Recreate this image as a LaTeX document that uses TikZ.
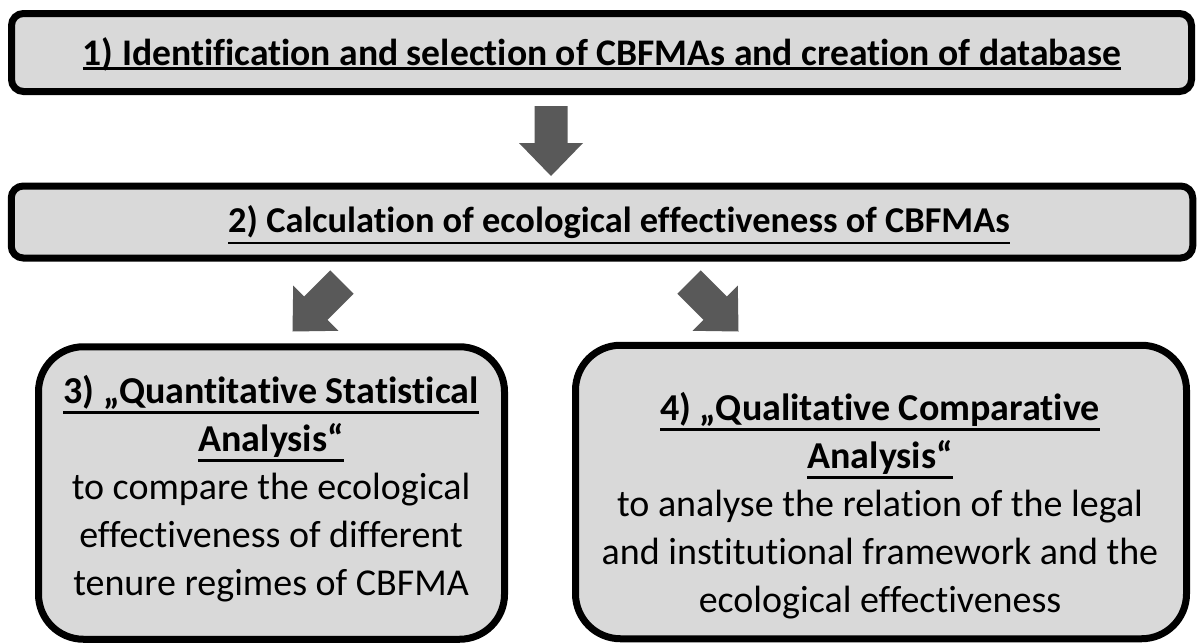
\documentclass[tikz,border=0pt]{standalone}
\usepackage{fontspec}
\setmainfont[Ligatures=NoCommon]{Carlito}
\definecolor{boxgray}{HTML}{D9D9D9}
\definecolor{arrowgray}{HTML}{595959}
% underline at a fixed distance (#1 pt) below the baseline
\newcommand\uln[2]{\setbox0=\hbox{#2}\rlap{\smash{\rule[\dimexpr-#1pt-1.25pt\relax]{\wd0}{2.5pt}}}\box0}
% filled block arrow: tail at #1, pointing at angle #2
\newcommand\blockarrow[2]{\fill[arrowgray,shift={(#1)},rotate=#2]
  (0,-16.5) -- (37,-16.5) -- (37,-32) -- (70,0) -- (37,32) -- (37,16.5) -- (0,16.5) -- cycle;}
\begin{document}
\begin{tikzpicture}[x=1pt,y=-1pt,
  stagebox/.style={draw=black,line width=7pt,fill=boxgray,inner sep=0pt},
  headtext/.style={font=\bfseries,inner sep=0pt,anchor=base},
  bodytext/.style={font=\fontsize{38}{48}\selectfont,align=center,inner sep=0pt,anchor=north}]
\useasboundingbox (0,0) rectangle (1198,643);

% stage boxes
\node[stagebox,rounded corners=12pt,minimum width=1180pt,minimum height=78pt] (b1) at (601.5,52.5) {};
\node[stagebox,rounded corners=12pt,minimum width=1181.5pt,minimum height=72pt] (b2) at (602,222) {};
\node[stagebox,rounded corners=45pt,minimum width=466pt,minimum height=292.5pt] (b3) at (271.5,493) {};
\node[stagebox,rounded corners=45pt,minimum width=611pt,minimum height=293.5pt] (b4) at (881,492) {};

% texts
\node[headtext] (t1) at (602,65) {\fontsize{37.6}{44}\selectfont\uln{3.5}{1) Identification and selection of CBFMAs and creation of database}};
\node[headtext] (t2) at (619,232) {\fontsize{36.4}{44}\selectfont\uln{11}{2) Calculation of ecological effectiveness of CBFMAs}};
\node[bodytext] (t3) at (271,375) {\uln{9}{\bfseries 3) „Quantitative Statistical}\\
  \uln{9}{\bfseries Analysis“}\\
  to compare the ecological\\
  effectiveness of different\\
  tenure regimes of CBFMA};
\node[bodytext] (t4) at (880,392) {\uln{9}{\bfseries 4) „Qualitative Comparative}\\
  \uln{9}{\bfseries Analysis“}\\
  to analyse the relation of the legal\\
  and institutional framework and the\\
  ecological effectiveness};

% block arrows between the stages
\coordinate (d1) at (551,106);
\coordinate (d2) at (342,282);
\coordinate (d3) at (689,282);
\blockarrow{d1}{-90}
\blockarrow{d2}{-135}
\blockarrow{d3}{-45}
\end{tikzpicture}
\end{document}
